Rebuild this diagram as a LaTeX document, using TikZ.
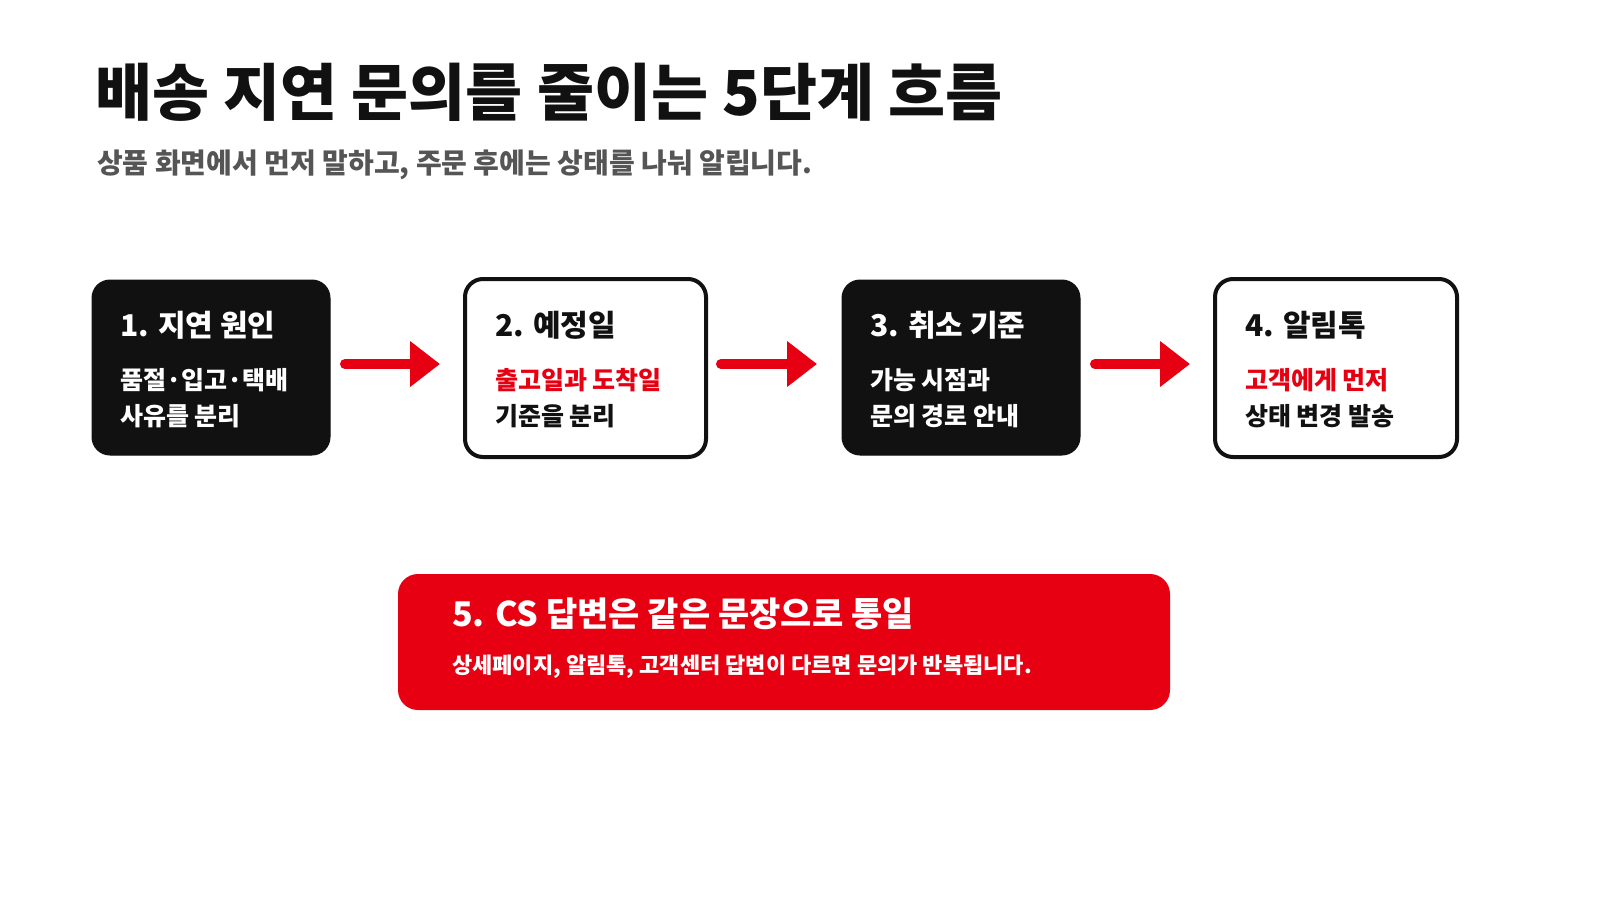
\documentclass[tikz,border=0pt]{standalone}
\usepackage{fontspec}
\setmainfont{Noto Sans CJK KR}
\usetikzlibrary{arrows.meta}
\definecolor{ink}{HTML}{111111}
\definecolor{accent}{HTML}{E60012}
\definecolor{subgray}{HTML}{555555}
\tikzset{
  blackbox/.style={fill=ink,draw=ink,rounded corners=18pt,line width=1pt},
  whitebox/.style={fill=white,draw=ink,rounded corners=18pt,line width=4pt},
  txt/.style={anchor=base west,inner sep=0pt,font=\bfseries},
  flow/.style={draw=accent,line width=10pt,line cap=round,-{Triangle[length=30pt,width=44pt]},shorten <=15pt,shorten >=25pt}
}
\begin{document}
\begin{tikzpicture}[x=1pt,y=-1pt]
\useasboundingbox (0,0) rectangle (1600,900);
\node[txt,text=ink,font=\bfseries\fontsize{62}{70}\selectfont] (title) at (95,115) {배송 지연 문의를 줄이는 5단계 흐름};
\node[txt,text=subgray,font=\bfseries\fontsize{28}{32}\selectfont] (sub) at (97,173) {상품 화면에서 먼저 말하고, 주문 후에는 상태를 나눠 알립니다.};
\path[blackbox] (92,280) rectangle (330,455) coordinate (b1se);
\node[inner sep=0pt] (b1) at (211,367.5) {};
\path[whitebox] (465,279) rectangle (706,457);
\node[inner sep=0pt] (b2) at (585.5,368) {};
\path[blackbox] (842,280) rectangle (1080,455);
\node[inner sep=0pt] (b3) at (961,367.5) {};
\path[whitebox] (1215,279) rectangle (1457,457);
\node[inner sep=0pt] (b4) at (1336,368) {};
\coordinate (r1) at (330,364); \coordinate (l2) at (465,364);
\coordinate (r2) at (706,364); \coordinate (l3) at (842,364);
\coordinate (r3) at (1080,364); \coordinate (l4) at (1215,364);
\draw[flow] (r1) -- (l2);
\draw[flow] (r2) -- (l3);
\draw[flow] (r3) -- (l4);
\tikzset{bt/.style={txt,font=\bfseries\fontsize{30}{34}\selectfont},
 bb/.style={txt,font=\bfseries\fontsize{25}{30}\selectfont}}
\node[bt,text=white] (t1) at (120,336) {1. 지연 원인};
\node[bb,text=white] (t1a) at (120,389) {품절·입고·택배};
\node[bb,text=white] (t1b) at (120,425) {사유를 분리};
\node[bt,text=ink] (t2) at (495,336) {2. 예정일};
\node[bb,text=accent] (t2a) at (495,389) {출고일과 도착일};
\node[bb,text=ink] (t2b) at (495,425) {기준을 분리};
\node[bt,text=white] (t3) at (870,336) {3. 취소 기준};
\node[bb,text=white] (t3a) at (870,389) {가능 시점과};
\node[bb,text=white] (t3b) at (870,425) {문의 경로 안내};
\node[bt,text=ink] (t4) at (1245,336) {4. 알림톡};
\node[bb,text=accent] (t4a) at (1245,389) {고객에게 먼저};
\node[bb,text=ink] (t4b) at (1245,425) {상태 변경 발송};
\path[fill=accent,rounded corners=20pt] (398,574) rectangle (1170,710);
\node[txt,text=white,font=\bfseries\fontsize{34}{40}\selectfont] (t5) at (452,626) {5. CS 답변은 같은 문장으로 통일};
\node[txt,text=white,font=\bfseries\fontsize{22}{26}\selectfont] (t5a) at (452,673) {상세페이지, 알림톡, 고객센터 답변이 다르면 문의가 반복됩니다.};
\end{tikzpicture}
\end{document}
